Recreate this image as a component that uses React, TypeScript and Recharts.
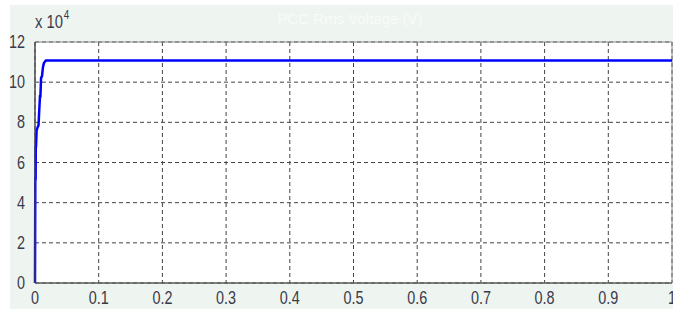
import React from "react";
import { LineChart, Line, XAxis, YAxis, CartesianGrid, ReferenceArea } from "recharts";

const timeSec = [0, 0.0003, 0.0005, 0.001, 0.0012, 0.0016, 0.0025, 0.004, 0.0055, 0.0062, 0.0078, 0.0085, 0.0095, 0.011, 0.0125, 0.014, 0.017, 1];
const voltage = [0, 31000, 52000, 52000, 68000, 68000, 76000, 77500, 78500, 83000, 93000, 93000, 102000, 103000, 107500, 109500, 110800, 110800];
const xTicks = [0, 0.1, 0.2, 0.3, 0.4, 0.5, 0.6, 0.7, 0.8, 0.9, 1];
const yTicks = [0, 20000, 40000, 60000, 80000, 100000, 120000];

const data = timeSec.map((t, i) => ({ t, v: voltage[i] }));

const FONT = "'Liberation Sans', Arial, sans-serif";
const TICK_FILL = "#3a3a4a";

const XTick = (props: any) => {
  const { x, y, payload } = props;
  return (
    <text
      transform={`translate(${x},${y + 13}) scale(0.8,1)`}
      textAnchor="middle"
      fontFamily={FONT}
      fontSize={18}
      fill={TICK_FILL}
    >
      {String(payload.value)}
    </text>
  );
};

const YTick = (props: any) => {
  const { x, y, payload } = props;
  return (
    <text
      transform={`translate(${x - 2},${y + 6}) scale(0.8,1)`}
      textAnchor="end"
      fontFamily={FONT}
      fontSize={18}
      fill={TICK_FILL}
    >
      {String(payload.value / 10000)}
    </text>
  );
};

export default function App() {
  return (
    <div style={{ position: "absolute", left: 0, top: 0, width: 673, height: 309, background: "#fff" }}>
      <div style={{ position: "absolute", left: 10, top: 5, width: 663, height: 304, background: "#eef4f0" }} />
      <div style={{ position: "absolute", left: 0, top: 0 }}>
        <LineChart width={673} height={309} data={data} margin={{ top: 42, right: 1, bottom: 0, left: 0 }}>
          <CartesianGrid fill="#ffffff" stroke="#444" strokeDasharray="4 3" />
          <XAxis
            dataKey="t"
            type="number"
            domain={[0, 1]}
            ticks={xTicks}
            height={26}
            tick={<XTick />}
            tickLine={false}
            axisLine={{ stroke: "#444", strokeWidth: 1.2 }}
            interval={0}
          />
          <YAxis
            type="number"
            domain={[0, 120000]}
            ticks={yTicks}
            width={35}
            tick={<YTick />}
            tickLine={false}
            axisLine={{ stroke: "#444", strokeWidth: 1.2 }}
            interval={0}
          />
          <ReferenceArea x1={0} x2={1} y1={0} y2={120000} fill="none" fillOpacity={0} stroke="#888" strokeWidth={1} ifOverflow="visible" />
          <Line
            type="linear"
            dataKey="v"
            stroke="#0000ff"
            strokeWidth={2.5}
            dot={false}
            isAnimationActive={false}
          />
        </LineChart>
      </div>
      <div style={{ position: "absolute", left: 35, top: 10, fontFamily: FONT, fontSize: 18, color: TICK_FILL, whiteSpace: "nowrap", transform: "scaleX(0.82)", transformOrigin: "left top" }}>
        x 10<sup style={{ fontSize: 12, position: "relative", top: -2, marginLeft: 1 }}>4</sup>
      </div>
      <div style={{ position: "absolute", left: 0, width: 700, top: 10, textAlign: "center", fontFamily: FONT, fontSize: 15, color: "#f8fbf9" }}>
        PCC Rms Voltage (V)
      </div>
    </div>
  );
}
